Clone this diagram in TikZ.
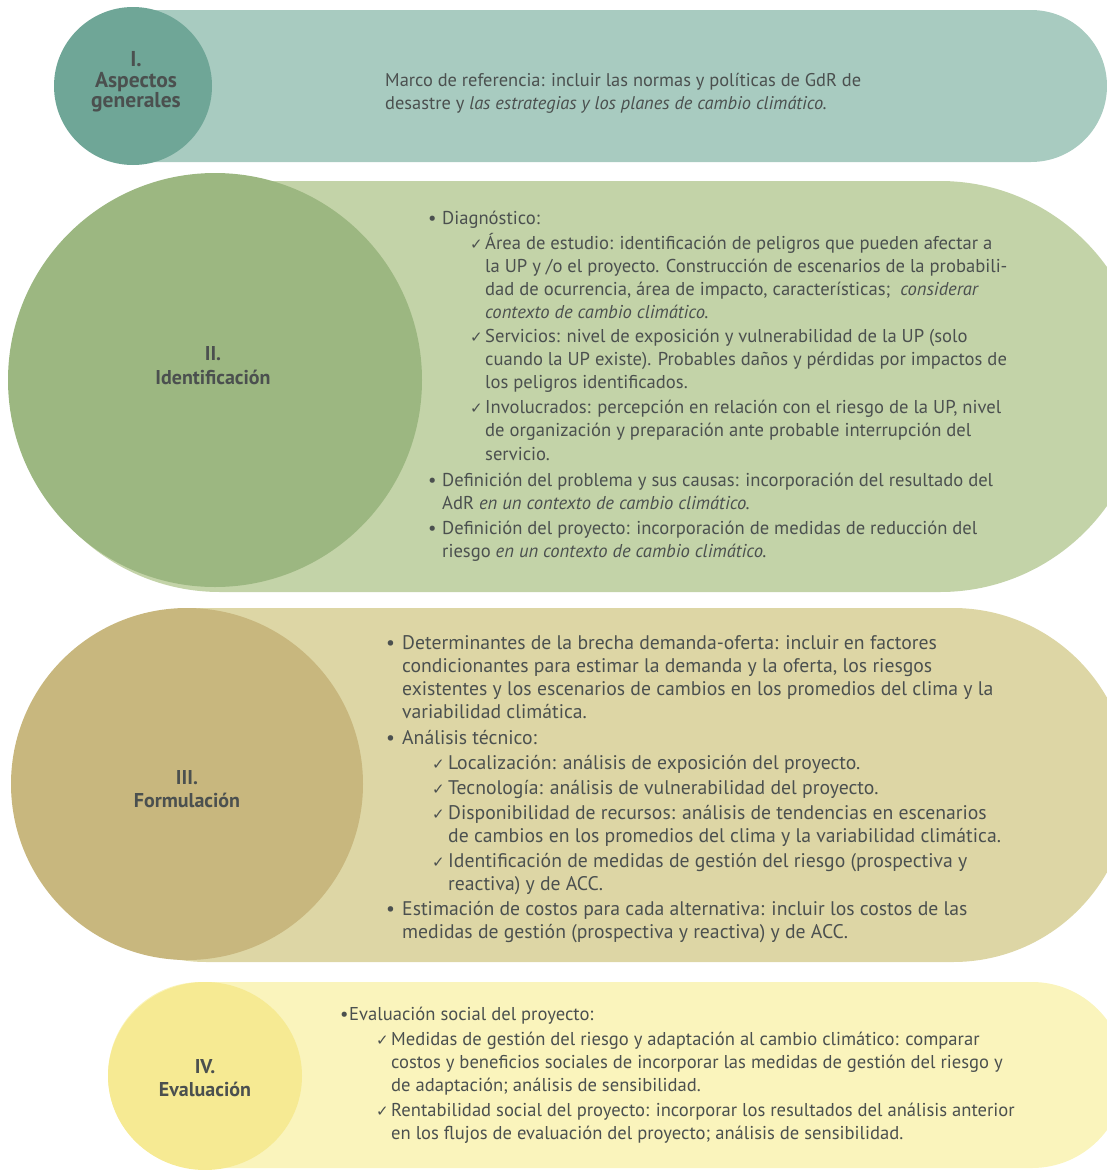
\documentclass[tikz,border=0pt]{standalone}
\usepackage{fontspec}
\setmainfont{PT Sans}
\newfontfamily\tickfont{DejaVu Sans}
\definecolor{bandA}{HTML}{A8CBC0}
\definecolor{discA}{HTML}{6FA697}
\definecolor{bandB}{HTML}{C3D3A8}
\definecolor{discB}{HTML}{9CB781}
\definecolor{bandC}{HTML}{DDD6A5}
\definecolor{discC}{HTML}{C8B77E}
\definecolor{bandD}{HTML}{FAF4BC}
\definecolor{discD}{HTML}{F6EA93}
\definecolor{ink}{HTML}{4B504F}
\newcommand{\pnt}[1]{\makebox[#1][l]{•}}
\newcommand{\tick}[2]{\hspace*{#1}\makebox[#2][l]{\tickfont\fontsize{15}{15}\selectfont ✓}}
\tikzset{
    heading/.style={font=\bfseries\fontsize{20}{24}\selectfont,text=ink,align=center},
    body/.style={font=\fontsize{18.6}{23.1}\selectfont,text=ink,align=left,anchor=north west,inner sep=0pt}
}
\begin{document}
\begin{tikzpicture}[x=1pt,y=-1pt]
    \useasboundingbox (0,0) rectangle (1107,1170);
    \clip (0,0) rectangle (1107,1170);
    % bands
    \fill[bandA,rounded corners=76pt] (57,10) rectangle (1107,162);
    \fill[bandB,rounded corners=205pt] (15,181) rectangle (1145,592);
    \fill[bandC,rounded corners=177pt] (30,608) rectangle (1130,962);
    \fill[bandD,rounded corners=93pt] (108,982) rectangle (1125,1168);
    % discs
    \fill[discA] (133,86) circle[radius=79pt];
    \fill[discB] (215,380) circle[radius=207pt];
    \fill[discC] (187,784) circle[radius=176pt];
    \fill[discD] (205,1076) ellipse[x radius=97pt,y radius=94pt];
    % headings
    \node[heading,font=\bfseries\fontsize{21.5}{20.5}\selectfont] (aspectos) at (136,82) {I.\\Aspectos\\generales};
    \node[heading] (identificacion) at (213,366) {II.\\Identificación};
    \node[heading,font=\bfseries\fontsize{20}{23}\selectfont] (formulacion) at (187,789) {III.\\Formulación};
    \node[heading,font=\bfseries\fontsize{20}{22.5}\selectfont] (evaluacion) at (205,1078) {IV.\\Evaluación};
    % texts
    \node[body,font=\fontsize{18.4}{23}\selectfont] (marco) at (385,73.5) {Marco de referencia: incluir las normas y políticas de GdR de\\
        desastre y \textit{las estrategias y los planes de cambio climático.}};
    \node[body] (diagnostico) at (428,210.5) {\pnt{14pt}Diagnóstico:\\[2pt]
        \tick{42pt}{15pt}Área de estudio: identificación de peligros que pueden afectar a\\
        \hspace*{57pt}la UP y /o el proyecto. Construcción de escenarios de la probabili-\\
        \hspace*{57pt}dad de ocurrencia, área de impacto, características; \ \textit{considerar}\\
        \hspace*{57pt}\textit{contexto de cambio climático.}\\[1pt]
        \tick{42pt}{15pt}Servicios: nivel de exposición y vulnerabilidad de la UP (solo\\
        \hspace*{57pt}cuando la UP existe). Probables daños y pérdidas por impactos de\\
        \hspace*{57pt}los peligros identificados.\\[2pt]
        \tick{42pt}{15pt}Involucrados: percepción en relación con el riesgo de la UP, nivel\\
        \hspace*{57pt}de organización y preparación ante probable interrupción del\\
        \hspace*{57pt}servicio.\\[3pt]
        \pnt{14pt}Definición del problema y sus causas: incorporación del resultado del\\
        \hspace*{14pt}AdR \textit{en un contexto de cambio climático.}\\[2pt]
        \pnt{14pt}Definición del proyecto: incorporación de medidas de reducción del\\
        \hspace*{14pt}riesgo \textit{en un contexto de cambio climático.}};
    \node[body,font=\fontsize{19.7}{23}\selectfont] (brecha) at (386,635) {\pnt{16pt}Determinantes de la brecha demanda-oferta: incluir en factores\\
        \hspace*{16pt}condicionantes para estimar la demanda y la oferta, los riesgos\\
        \hspace*{16pt}existentes y los escenarios de cambios en los promedios del clima y la\\
        \hspace*{16pt}variabilidad climática.\\[3pt]
        \pnt{16pt}Análisis técnico:\\[2pt]
        \tick{46pt}{16pt}Localización: análisis de exposición del proyecto.\\[2pt]
        \tick{46pt}{16pt}Tecnología: análisis de vulnerabilidad del proyecto.\\[2pt]
        \tick{46pt}{16pt}Disponibilidad de recursos: análisis de tendencias en escenarios\\
        \hspace*{62pt}de cambios en los promedios del clima y la variabilidad climática.\\[2pt]
        \tick{46pt}{16pt}Identificación de medidas de gestión del riesgo (prospectiva y\\
        \hspace*{62pt}reactiva) y de ACC.\\[2pt]
        \pnt{16pt}Estimación de costos para cada alternativa: incluir los costos de las\\
        \hspace*{16pt}medidas de gestión (prospectiva y reactiva) y de ACC.};
    \node[body] (social) at (340,1006.5) {\pnt{9pt}Evaluación social del proyecto:\\[2pt]
        \tick{36pt}{15pt}Medidas de gestión del riesgo y adaptación al cambio climático: comparar\\
        \hspace*{51pt}costos y beneficios sociales de incorporar las medidas de gestión del riesgo y\\
        \hspace*{51pt}de adaptación; análisis de sensibilidad.\\[2pt]
        \tick{36pt}{15pt}Rentabilidad social del proyecto: incorporar los resultados del análisis anterior\\
        \hspace*{51pt}en los flujos de evaluación del proyecto; análisis de sensibilidad.};
\end{tikzpicture}
\end{document}
